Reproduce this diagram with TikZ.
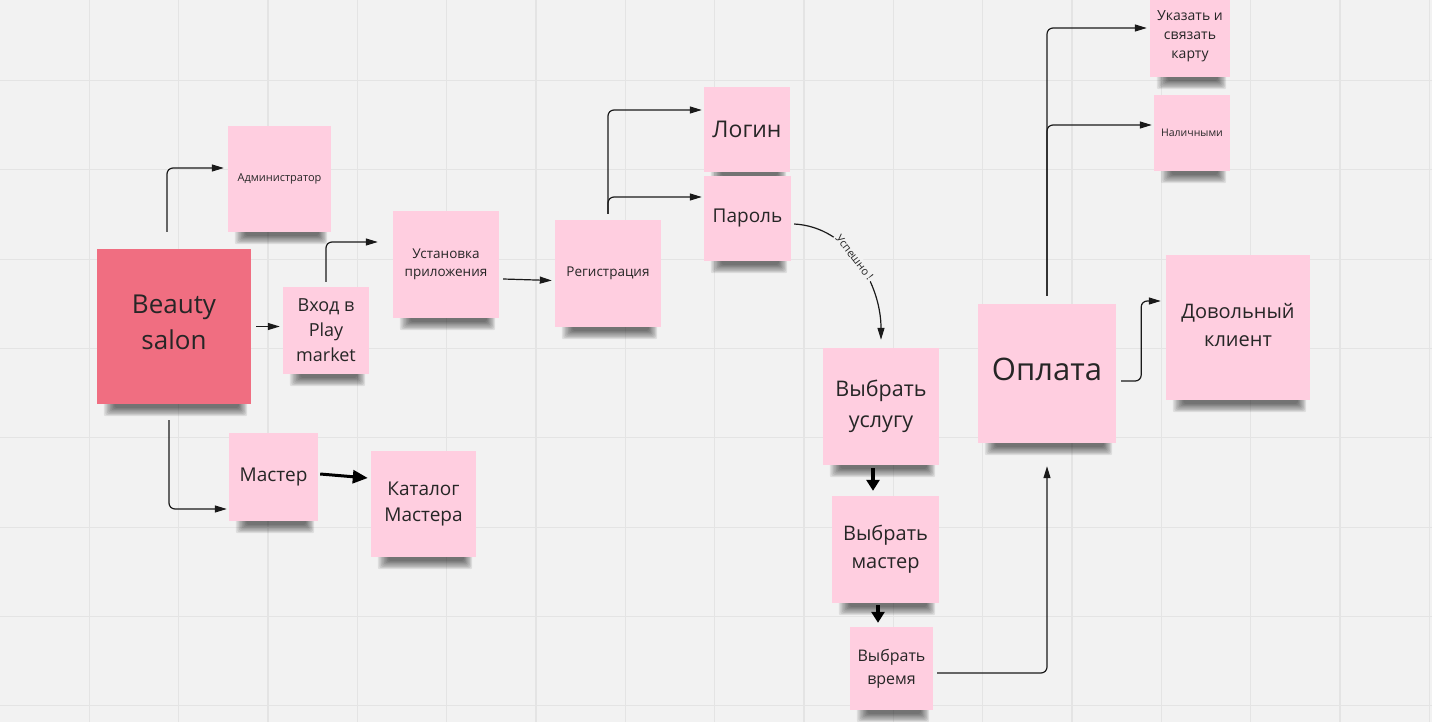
\documentclass[tikz,border=0pt]{standalone}
\usepackage{fontspec}
\setmainfont{Open Sans}
\usetikzlibrary{arrows.meta,calc}
\pgfdeclarelayer{bg}
\pgfdeclarelayer{shad}
\pgfsetlayers{bg,shad,main}
\definecolor{bgc}{HTML}{F2F2F2}
\definecolor{gridc}{HTML}{E4E4E4}
\definecolor{notepink}{HTML}{FFCEE0}
\definecolor{notered}{HTML}{F06E81}
\definecolor{txt}{HTML}{262626}
\definecolor{linec}{HTML}{1A1A1A}
\newcommand{\fsz}[2]{\fontsize{#1}{#2}\selectfont}
\tikzset{
  note/.style={fill=notepink, inner sep=2pt, align=center, text=txt},
  redn/.style={fill=notered, inner sep=2pt, align=center, text=txt},
  conn/.style={draw=linec, line width=1.2pt, rounded corners=6pt, -{Triangle[length=12pt,width=7pt]}},
  bold/.style={draw=black, line width=3.4pt, -{Triangle[length=11pt,width=13pt]}},
  lbl/.style={fill=bgc, inner sep=1.5pt, text=txt, font=\fsz{11}{13}},
}
\begin{document}
\begin{tikzpicture}[x=1pt, y=-1pt]
\clip (0,0) rectangle (1432,722);
\begin{pgfonlayer}{bg}
  \fill[bgc] (0,0) rectangle (1432,722);
  \foreach \i in {1,...,16} \draw[gridc, line width=1.3pt] (\i*89.33,0) -- (\i*89.33,722);
  \foreach \j in {0,...,7} \draw[gridc, line width=1.3pt] (0,80.5+\j*89.33) -- (1432,80.5+\j*89.33);
\end{pgfonlayer}

% notes
\node[redn, minimum width=154pt, minimum height=155pt, font=\fsz{26}{36}] (beauty) at (174,326.5) {Beauty\\salon\\[-28pt]};
\node[note, minimum width=103pt, minimum height=106pt, font=\fsz{11}{14}] (admin) at (279.5,179) {Администратор};
\node[note, minimum width=86pt, minimum height=87pt, font=\fsz{18}{25}] (vhod) at (326,330.5) {Вход в\\Play\\market};
\node[note, minimum width=106pt, minimum height=107pt, font=\fsz{13.5}{18}] (ustan) at (446,264.5) {Установка\\приложения};
\node[note, minimum width=106pt, minimum height=107pt, font=\fsz{13.5}{18}] (reg) at (608,273.5) {Регистрация};
\node[note, minimum width=86pt, minimum height=85pt, font=\fsz{23}{28}] (login) at (747,129.5) {Логин};
\node[note, minimum width=87pt, minimum height=85pt, font=\fsz{19}{25}] (parol) at (747.5,218.5) {Пароль};
\node[note, minimum width=89pt, minimum height=88pt, font=\fsz{19}{26}] (master) at (273.5,477) {Мастер};
\node[note, minimum width=105pt, minimum height=106pt, font=\fsz{19}{26}] (catalog) at (423.5,504) {Каталог\\Мастера};
\node[note, minimum width=116pt, minimum height=117pt, font=\fsz{21.5}{31}] (usluga) at (881,406.5) {Выбрать\\услугу};
\node[note, minimum width=107pt, minimum height=107pt, font=\fsz{20}{28}] (vmaster) at (885.5,549.5) {Выбрать\\мастер};
\node[note, minimum width=83pt, minimum height=83pt, font=\fsz{16}{23}] (vremya) at (891.5,668.5) {Выбрать\\время};
\node[note, minimum width=138pt, minimum height=139pt, font=\fsz{31}{38}] (oplata) at (1047,373.5) {Оплата\\[-30pt]};
\node[note, minimum width=80pt, minimum height=82pt, font=\fsz{14}{19}] (karta) at (1190,36) {Указать и\\связать\\карту};
\node[note, minimum width=76pt, minimum height=76pt, font=\fsz{10.5}{13}] (nal) at (1192,133) {Наличными};
\node[note, minimum width=144pt, minimum height=145pt, font=\fsz{20}{28}] (dovol) at (1238,327.5) {Довольный\\клиент\\[-22pt]};

% shadows
\begin{pgfonlayer}{shad}
\foreach \n in {beauty,admin,vhod,ustan,reg,login,parol,master,catalog,usluga,vmaster,vremya,oplata,karta,nal,dovol}{
  \foreach \k in {0,...,7}{
    \fill[black, opacity=0.085, rounded corners=2pt] ($(\n.south west)+(7+1.5*\k,-5)$) rectangle ($(\n.south east)+(-4-1.2*\k,12-1.2*\k)$);
  }
}
\end{pgfonlayer}

% connectors
\coordinate (s1) at ($(beauty.north)+(-7,-17)$);
\draw[conn, shorten >=4pt] (s1) |- ([yshift=11pt]admin.west);
\draw[conn] ($(beauty.east)+(5,0)$) -- ($(beauty.east -| vhod.west)+(-3,0)$);
\coordinate (s3) at ($(vhod.north)+(0,-5)$);
\draw[conn, shorten >=15pt] (s3) |- ([yshift=22.5pt]ustan.west);
\draw[conn] ($(ustan.east)+(4,14.5)$) -- ($(reg.west)+(-3,7)$);
\coordinate (s5) at ($(reg.north)+(0,-6)$);
\draw[conn, shorten >=2pt] (s5) |- ([yshift=19.5pt]login.west);
\draw[conn, shorten >=2pt] (s5) |- ([yshift=21.5pt]parol.west);
\draw[conn, rounded corners=0pt] ($(parol.east)+(3,5.5)$) .. controls +(55,3) and +(0,-55) .. ($(usluga.north)+(0,-8)$)
  node[lbl, pos=0.46, sloped] {Успешно !};
\draw[bold] ($(usluga.south)+(-8,3)$) -- ($(vmaster.north)+(-12.5,-5)$);
\draw[bold] ($(vmaster.south)+(-7.5,2)$) -- ($(vremya.north)+(-13.5,-4)$);
\draw[conn] ($(vremya.east)+(4,4.5)$) -| ($(oplata.south)+(0,23)$);
\coordinate (s11) at ($(oplata.north)+(0,-8)$);
\draw[conn, shorten >=3pt] (s11) |- ([yshift=8pt]karta.west);
\draw[conn, shorten >=2pt] (s11) |- ([yshift=8pt]nal.west);
\draw[conn, shorten >=5pt] ($(oplata.east)+(5,7.5)$) -- ++(20,0) |- ([yshift=26.5pt]dovol.west);
\draw[conn, shorten >=2pt] ($(beauty.south)+(-5,16)$) |- ([yshift=-32pt]master.west);
\draw[bold, line width=3pt, -{Triangle[length=15pt,width=13pt]}] ($(master.east)+(2,-3)$) -- ($(catalog.west)+(-3,-26)$);
\end{tikzpicture}
\end{document}
